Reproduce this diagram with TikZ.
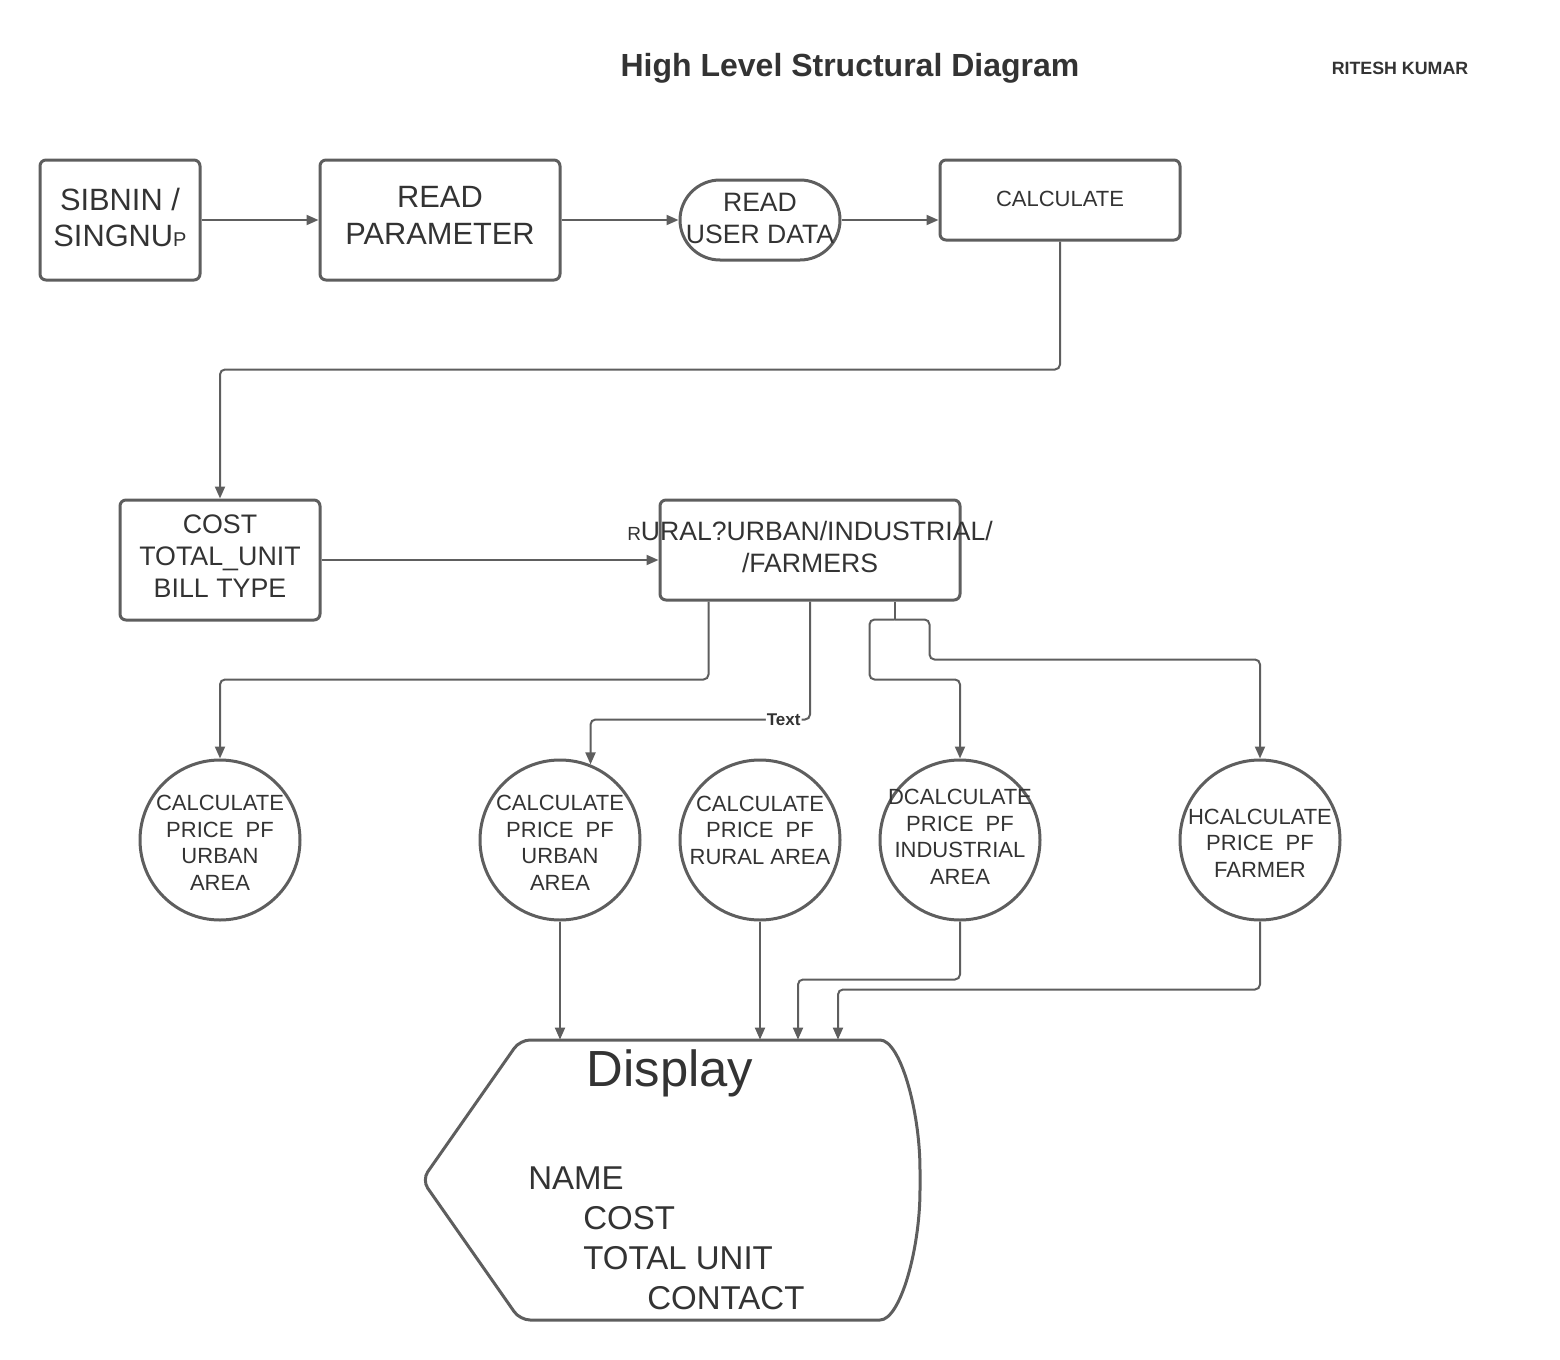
\documentclass[tikz,border=0pt]{standalone}
\usepackage{fontspec}
\setmainfont{Liberation Sans}
\usetikzlibrary{positioning, arrows.meta}

\definecolor{linegray}{HTML}{5E5E5E}
\definecolor{textgray}{HTML}{333333}

\tikzset{
	box/.style={draw=linegray, line width=1.5pt, rounded corners=3pt, align=center, text=textgray, inner sep=0pt},
	bubble/.style={draw=linegray, line width=1.5pt, circle, minimum size=80pt, inner sep=0pt},
	bubtext/.style={align=center, text=textgray, inner sep=0pt, font=\fontsize{11}{13.25}\selectfont},
	arr/.style={draw=linegray, line width=1pt, rounded corners=2.5pt, -{Triangle[length=6pt,width=5pt]}},
	wire/.style={draw=linegray, line width=1pt, rounded corners=2.5pt},
	listtext/.style={anchor=base west, text=textgray, inner sep=0pt, font=\fontsize{16.5}{18}\selectfont},
}

\begin{document}
\begin{tikzpicture}[x=0.5pt, y=-0.5pt]
	\useasboundingbox (0,0) rectangle (1560,1360);
	\draw node (title)[text=textgray, font=\bfseries\fontsize{16}{19}\selectfont] at (850,68) {High Level Structural Diagram};
	\draw node (author)[text=textgray, font=\bfseries\fontsize{8.9}{10}\selectfont] at (1400,68) {RITESH KUMAR};
	\draw node (signin)[box, minimum width=80pt, minimum height=60pt, text depth=3pt, font=\fontsize{15.4}{18}\selectfont] at (120,220) {SIBNIN /\\SINGNU{\fontsize{10}{10}\selectfont P}};
	\draw node (param)[box, minimum width=120pt, minimum height=60pt, text depth=5pt, font=\fontsize{15.4}{18.5}\selectfont] at (440,220) {READ\\PARAMETER};
	\draw node (userdata)[box, rounded corners=20pt, minimum width=80pt, minimum height=40pt, text depth=2pt, font=\fontsize{13.3}{16}\selectfont] at (760,220) {READ\\USER DATA};
	\draw node (calc)[box, minimum width=120pt, minimum height=40pt, font=\fontsize{11}{12}\selectfont] at (1060,200) {\raisebox{1.5pt}{CALCULATE}};
	\draw node (cost)[box, minimum width=100pt, minimum height=60pt, text depth=4pt, font=\fontsize{13.4}{16}\selectfont] at (220,560) {COST\\TOTAL\_UNIT\\BILL TYPE};
	\draw node (rural)[box, minimum width=150pt, minimum height=50pt] at (810,550) {};
	\draw node (ruraltxt)[text=textgray, align=center, inner sep=0pt, font=\fontsize{13.3}{16}\selectfont] at (810,547) {{\fontsize{9.5}{9.5}\selectfont R}URAL?URBAN/INDUSTRIAL/\\/FARMERS};
	\draw node (urbanA)[bubble] at (220,840) {};
	\draw node (urbanB)[bubble] at (560,840) {};
	\draw node (ruralc)[bubble] at (760,840) {};
	\draw node (indus)[bubble] at (960,840) {};
	\draw node (farmer)[bubble] at (1260,840) {};
	\draw node[bubtext] at (220,843) {CALCULATE\\PRICE\ \ PF\\URBAN\\AREA};
	\draw node[bubtext] at (560,843) {CALCULATE\\PRICE\ \ PF\\URBAN\\AREA};
	\draw node[bubtext] at (760,830) {CALCULATE\\PRICE\ \ PF\\RURAL AREA};
	\draw node[bubtext] at (960,837) {DCALCULATE\\PRICE\ \ PF\\INDUSTRIAL\\AREA};
	\draw node[bubtext] at (1260,843) {HCALCULATE\\PRICE\ \ PF\\FARMER};
	\draw node (display)[minimum width=249pt, minimum height=140pt, inner sep=0pt] at (671,1180) {};
	\draw[linegray, line width=1.5pt, rounded corners=5pt] (520,1040) -- (870,1040) .. controls (900,1040) and (920,1110) .. (920,1180) .. controls (920,1250) and (900,1320) .. (870,1320) -- (520,1320) -- (422,1180) -- cycle;
	\draw node (disphead)[text=textgray, anchor=base, inner sep=0pt, font=\fontsize{25.4}{28}\selectfont] at (670,1086) {Display};
	\draw node (name)[listtext] at (528,1189) {NAME};
	\draw node (dcost)[listtext] at (583,1229) {COST};
	\draw node (dunit)[listtext] at (583,1269) {TOTAL UNIT};
	\draw node (dcontact)[listtext] at (647,1309) {CONTACT};
	\draw[arr] (signin) -- (param);
	\draw[arr] (param) -- (userdata);
	\draw[arr] (userdata) -- (calc.west |- userdata);
	\draw[arr] (calc.south) -- ++(0,128) -| (cost.north);
	\draw[arr] (cost) -- (rural.west |- cost);
	\draw[arr] ([xshift=25pt]rural.south west) -- ++(0,78) -| (urbanA.north);
	\draw[arr] (rural.south) -- ++(0,118) -| (urbanB.68) node[pos=0.06, fill=white, inner sep=0.5pt, text=textgray, font=\bfseries\fontsize{8.5}{9}\selectfont] {Text};
	\coordinate (split) at ([xshift=-33.5pt,yshift=-9pt]rural.south east);
	\draw[wire] ([xshift=-33.5pt]rural.south east) -- (split);
	\draw[arr] (split) -- ++(-25,0) -- ++(0,60) -| (indus.north);
	\draw[arr] (split) -- ++(35,0) -- ++(0,40) -| (farmer.north);
	\draw[arr] (urbanB.south) -- (urbanB |- display.north);
	\draw[arr] (ruralc.south) -- (ruralc |- display.north);
	\draw[arr] (indus.south) -- ++(0,58) -| ([xshift=63.5pt]display.north);
	\draw[arr] (farmer.south) -- ++(0,68) -| ([xshift=83.5pt]display.north);
\end{tikzpicture}
\end{document}
